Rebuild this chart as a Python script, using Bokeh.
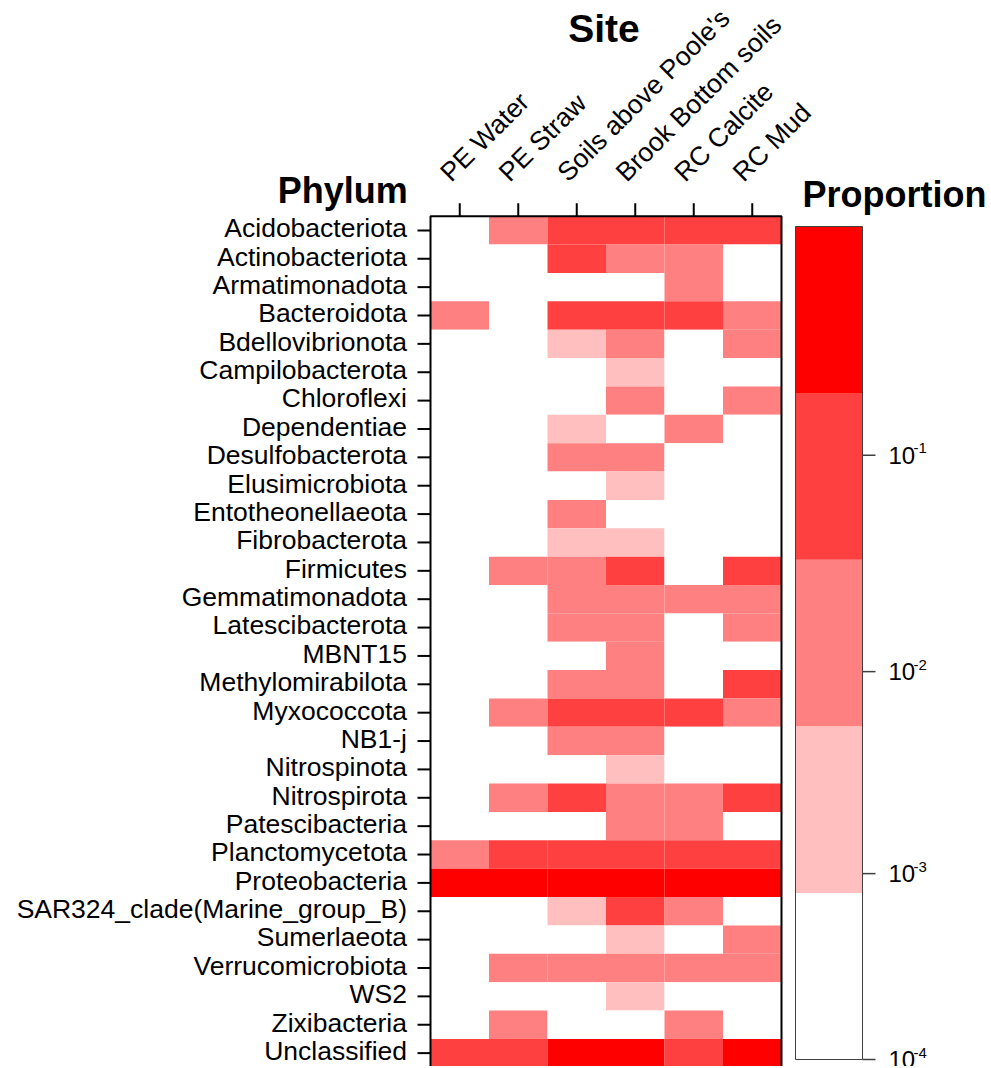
import math
import numpy as np
from bokeh.plotting import figure
from bokeh.models import ColumnDataSource, Range1d
from bokeh.embed import file_html
from bokeh.resources import INLINE
from bokeh.core.properties import value

# ---------------- data ----------------
sites = ["PE Water", "PE Straw", "Soils above Poole's", "Brook Bottom soils",
         "RC Calcite", "RC Mud"]

phyla = ["Acidobacteriota", "Actinobacteriota", "Armatimonadota", "Bacteroidota",
         "Bdellovibrionota", "Campilobacterota", "Chloroflexi", "Dependentiae",
         "Desulfobacterota", "Elusimicrobiota", "Entotheonellaeota", "Fibrobacterota",
         "Firmicutes", "Gemmatimonadota", "Latescibacterota", "MBNT15",
         "Methylomirabilota", "Myxococcota", "NB1-j", "Nitrospinota", "Nitrospirota",
         "Patescibacteria", "Planctomycetota", "Proteobacteria",
         "SAR324_clade(Marine_group_B)", "Sumerlaeota", "Verrucomicrobiota", "WS2",
         "Zixibacteria", "Unclassified"]

# estimated proportions (one list per site, in phylum order; 0 = not detected)
pe_water = [0, 0, 0, 0.015, 0, 0, 0, 0, 0, 0, 0, 0, 0, 0, 0,
            0, 0, 0, 0, 0, 0, 0, 0.015, 0.4, 0, 0, 0, 0, 0, 0.08]
pe_straw = [0.015, 0, 0, 0, 0, 0, 0, 0, 0, 0, 0, 0, 0.015, 0, 0,
            0, 0, 0.015, 0, 0, 0.015, 0, 0.08, 0.4, 0, 0, 0.015, 0, 0.015, 0.08]
soils_poole = [0.08, 0.08, 0, 0.08, 0.002, 0, 0, 0.002, 0.015, 0, 0.015, 0.002, 0.015, 0.015, 0.015,
               0, 0.015, 0.08, 0.015, 0, 0.08, 0, 0.08, 0.4, 0.002, 0, 0.015, 0, 0, 0.4]
brook_bottom = [0.08, 0.015, 0, 0.08, 0.015, 0.002, 0.015, 0, 0.015, 0.002, 0, 0.002, 0.08, 0.015, 0.015,
                0.015, 0.015, 0.08, 0.015, 0.002, 0.015, 0.015, 0.08, 0.4, 0.08, 0.002, 0.015, 0.002, 0, 0.4]
rc_calcite = [0.08, 0.015, 0.015, 0.08, 0, 0, 0, 0.015, 0, 0, 0, 0, 0, 0.015, 0,
              0, 0, 0.08, 0, 0, 0.015, 0.015, 0.08, 0.4, 0.015, 0, 0.015, 0, 0.015, 0.08]
rc_mud = [0.08, 0, 0, 0.015, 0.015, 0, 0.015, 0, 0, 0, 0, 0, 0.08, 0.015, 0.015,
          0, 0.08, 0.015, 0, 0, 0.08, 0, 0.08, 0.4, 0, 0.015, 0.015, 0, 0, 0.4]

# colour-key breaks, palette and labelled ticks
breaks = [1e-4, 8e-4, 5.5e-3, 0.034, 0.19, 1.0]
palette = ["#FFFFFF", "#FFBFBF", "#FF8080", "#FF4040", "#FF0000"]
key_ticks = [1e-4, 1e-3, 1e-2, 1e-1]
key_exponents = ["-4", "-3", "-2", "-1"]

# ---------------- layout constants (pixels) ----------------
W, H = 991, 1066
LEFT, TOP = 430.0, 215.7          # heatmap frame origin
CW, RH = 58.5, 28.37              # cell width / row height
KB, KH = 1059.0, 166.6            # colour key bottom / band height
K = 0.36                          # baseline correction (fraction of font size)
FONT = "Liberation Sans"
FS_LAB, FS_SITE, FS_HEAD, FS_KEY, FS_SUP = 26.5, 39, 36, 24, 15

n_rows, n_cols = len(phyla), len(sites)
BOTTOM = TOP + n_rows * RH

# ---------------- tables ----------------
columns = [pe_water, pe_straw, soils_poole, brook_bottom, rc_calcite, rc_mud]
xs, ys, vals, site_col, ph_col = [], [], [], [], []
for j, (s, col) in enumerate(zip(sites, columns)):
    for i, (ph, v) in enumerate(zip(phyla, col)):
        xs.append(j + 0.5)
        ys.append(n_rows - 1 - i + 0.5)
        vals.append(v)
        site_col.append(s)
        ph_col.append(ph)
idx = np.digitize(vals, breaks[1:-1])
colors = [palette[k] for k in idx]
cells = ColumnDataSource(dict(x=xs, y=ys, prop=vals, site=site_col, phylum=ph_col, color=colors))

row_y = [n_rows - 1 - i + 0.5 for i in range(n_rows)]
col_x = [j + 0.5 for j in range(n_cols)]

# ---------------- figure ----------------
p = figure(width=W, height=H, toolbar_location=None, output_backend="svg",
           x_range=Range1d(-LEFT / CW, (W - LEFT) / CW),
           y_range=Range1d((BOTTOM - H) / RH, BOTTOM / RH),
           x_axis_location=None, y_axis_location=None,
           min_border_left=0, min_border_right=0, min_border_top=0, min_border_bottom=0)
p.extra_x_ranges = {"kx": Range1d(0, W)}
p.extra_y_ranges = {"ky": Range1d((KB - H) / KH, KB / KH)}
p.grid.visible = False
p.outline_line_color = None
p.background_fill_color = "white"
p.border_fill_color = "white"

# heatmap cells
p.rect(x="x", y="y", width=1, height=1, source=cells, fill_color="color", line_color=None)
# frame
p.quad(left=0, right=n_cols, bottom=0, top=n_rows, fill_color=None,
       line_color="black", line_width=2)

# left ticks + phylum labels
tick_len_x = 13 / CW
p.segment(x0=[0] * n_rows, x1=[-tick_len_x] * n_rows, y0=row_y, y1=row_y,
          line_color="black", line_width=2)
p.text(x=[-23.5 / CW] * n_rows, y=[y - (7.4 - K * FS_LAB) / RH for y in row_y], text=phyla,
       text_font=value(FONT), text_font_size=value(f"{FS_LAB}px"), text_align="right",
       text_baseline="alphabetic", text_color="black")

# top ticks + site labels (rotated 45 degrees)
tick_len_y = 13 / RH
p.segment(x0=col_x, x1=col_x, y0=[n_rows] * n_cols, y1=[n_rows + tick_len_y] * n_cols,
          line_color="black", line_width=2)
d = K * FS_LAB * math.sqrt(0.5)
p.text(x=[x - (8 + d) / CW for x in col_x], y=[n_rows + (TOP - 183 + d) / RH] * n_cols,
       text=sites, angle=math.pi / 4, text_font=value(FONT),
       text_font_size=value(f"{FS_LAB}px"), text_align="left",
       text_baseline="alphabetic", text_color="black")

# titles
p.text(x=[n_cols / 2 - 2 / CW], y=[n_rows + (TOP - 41.7 + K * FS_SITE) / RH], text=["Site"],
       text_font=value(FONT), text_font_size=value(f"{FS_SITE}px"), text_font_style="bold",
       text_align="center", text_baseline="alphabetic", text_color="black")
p.text(x=[-22.7 / CW], y=[n_rows + (TOP - 203 + K * FS_HEAD) / RH], text=["Phylum"],
       text_font=value(FONT), text_font_size=value(f"{FS_HEAD}px"), text_font_style="bold",
       text_align="right", text_baseline="alphabetic", text_color="black")

# ---------------- colour key ----------------
nb = len(palette)
band_src = ColumnDataSource(dict(bottom=list(range(nb)), top=list(range(1, nb + 1)),
                                 color=palette))
p.quad(left=795, right=862, bottom="bottom", top="top", source=band_src,
       fill_color="color", line_color=None, x_range_name="kx", y_range_name="ky")
p.quad(left=795, right=862, bottom=0, top=nb, fill_color=None,
       line_color="#404040", line_width=1, x_range_name="kx", y_range_name="ky")

def key_pos(t):
    for i in range(len(breaks) - 1):
        if breaks[i] <= t < breaks[i + 1]:
            return i + math.log10(t / breaks[i]) / math.log10(breaks[i + 1] / breaks[i])
    return float(len(breaks) - 1)

tpos = [key_pos(t) for t in key_ticks]
tick_src = ColumnDataSource(dict(
    y=tpos,
    base_y=[t - (9 - K * FS_KEY) / KH for t in tpos],
    sup_y=[t + (1.5 + K * FS_SUP) / KH for t in tpos],
    base=["10"] * len(tpos),
    sup=key_exponents))
p.segment(x0=862, x1=875, y0="y", y1="y", source=tick_src, line_color="#404040",
          line_width=1.5, x_range_name="kx", y_range_name="ky")
p.text(x=888, y="base_y", text="base", source=tick_src, text_font=value(FONT),
       text_font_size=value(f"{FS_KEY}px"), text_align="left", text_baseline="alphabetic",
       text_color="black", x_range_name="kx", y_range_name="ky")
p.text(x=913, y="sup_y", text="sup", source=tick_src, text_font=value(FONT),
       text_font_size=value(f"{FS_SUP}px"), text_align="left", text_baseline="alphabetic",
       text_color="black", x_range_name="kx", y_range_name="ky")
p.text(x=[802], y=[(KB - 207 + K * FS_HEAD) / KH], text=["Proportion"], text_font=value(FONT),
       text_font_size=value(f"{FS_HEAD}px"), text_font_style="bold", text_align="left",
       text_baseline="alphabetic", text_color="black", x_range_name="kx", y_range_name="ky")

open("out.html", "w").write(file_html(p, INLINE))
